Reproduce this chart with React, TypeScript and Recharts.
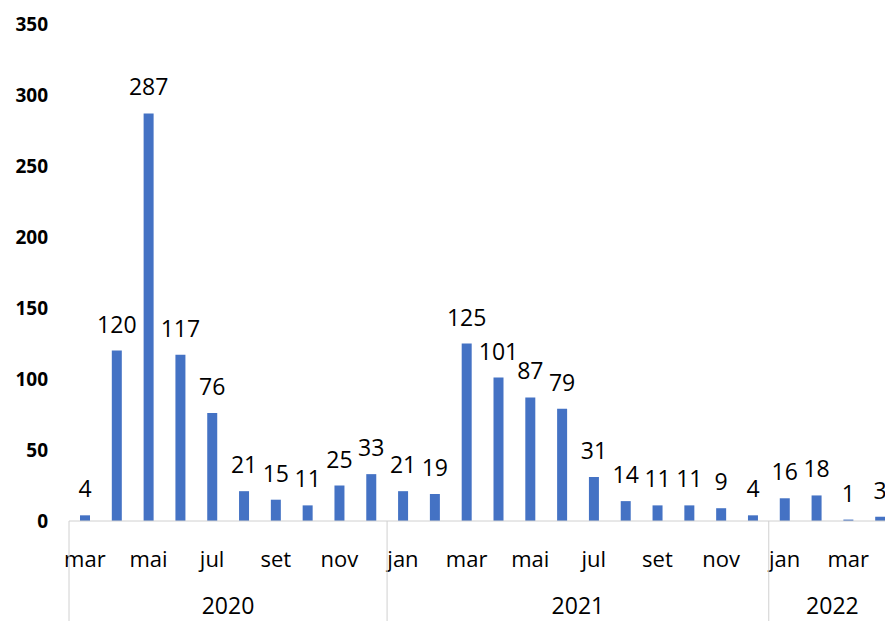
import React from "react";
import { BarChart, Bar, XAxis, YAxis, LabelList } from "recharts";

const months = [
  "mar", "abr", "mai", "jun", "jul", "ago", "set", "out", "nov", "dez",
  "jan", "fev", "mar", "abr", "mai", "jun", "jul", "ago", "set", "out", "nov", "dez",
  "jan", "fev", "mar", "abr",
];
const years = [
  "2020", "2020", "2020", "2020", "2020", "2020", "2020", "2020", "2020", "2020",
  "2021", "2021", "2021", "2021", "2021", "2021", "2021", "2021", "2021", "2021", "2021", "2021",
  "2022", "2022", "2022", "2022",
];
const values = [
  4, 120, 287, 117, 76, 21, 15, 11, 25, 33,
  21, 19, 125, 101, 87, 79, 31, 14, 11, 11, 9, 4,
  16, 18, 1, 3,
];
const yTicks = [0, 50, 100, 150, 200, 250, 300, 350];

const data = months.map((m, i) => ({ id: `${years[i]}-${m}-${i}`, month: m, year: years[i], value: values[i] }));

const FONT = "'Open Sans', sans-serif";
const CHART_W = 896;
const CHART_H = 621;
const Y_W = 69;
const band = (CHART_W - Y_W) / data.length;

// group info: start index -> length of that year's run
const groupStart: Record<number, number> = {};
years.forEach((y, i) => {
  if (i === 0 || years[i - 1] !== y) {
    groupStart[i] = years.filter((v) => v === y).length;
  }
});

function YearTick(props: any) {
  const { x, y, index } = props;
  const len = groupStart[index];
  if (!len) return null;
  const left = x - band / 2;
  return (
    <g>
      <line x1={left} x2={left} y1={y - 50} y2={y + 50} stroke="#d0d0d0" strokeWidth={1} />
      <text x={left + (len * band) / 2} y={y + 43} textAnchor="middle" fontSize={23} fontFamily={FONT} fill="#000">
        {years[index]}
      </text>
    </g>
  );
}

export default function App() {
  return (
    <div style={{ position: "absolute", left: 0, top: 0, width: 885, height: 621, overflow: "hidden", background: "#fff" }}>
      <BarChart width={CHART_W} height={CHART_H} data={data} margin={{ top: 24, right: 0, bottom: 0, left: 0 }}>
        <YAxis
          domain={[0, 350]}
          ticks={yTicks}
          width={Y_W}
          axisLine={false}
          tickLine={false}
          tickSize={0}
          tickMargin={21}
          tick={{ fill: "#000", fontSize: 19, fontWeight: 700, fontFamily: FONT }}
        />
        <XAxis
          dataKey="id"
          interval={1}
          height={50}
          tickFormatter={(v: string) => String(v).split("-")[1]}
          axisLine={{ stroke: "#d0d0d0" }}
          tickLine={false}
          tickSize={0}
          tickMargin={30}
          tick={{ fill: "#000", fontSize: 22, fontFamily: FONT }}
        />
        <XAxis
          xAxisId="year"
          dataKey="id"
          interval={0}
          height={50}
          axisLine={false}
          tickLine={false}
          tickSize={0}
          tickMargin={0}
          tick={<YearTick />}
        />
        <Bar dataKey="value" fill="#4472c4" barSize={10} isAnimationActive={false}>
          <LabelList dataKey="value" position="top" offset={18} fill="#000" fontSize={23} fontFamily={FONT} />
        </Bar>
      </BarChart>
    </div>
  );
}
